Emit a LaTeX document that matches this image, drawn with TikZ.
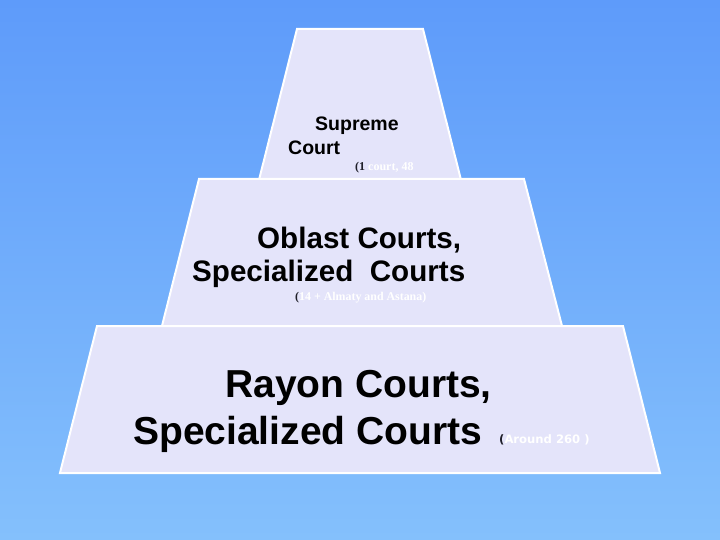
\documentclass[tikz,border=0pt]{standalone}
\usepackage{fontspec}
\setmainfont{Liberation Sans}
\newfontfamily\serifsmall{Liberation Serif}
\newfontfamily\dejavu{DejaVu Sans}
\definecolor{bgtop}{RGB}{94,155,250}
\definecolor{bgbot}{RGB}{132,192,252}
\definecolor{lav}{RGB}{228,228,250}
\definecolor{darktxt}{RGB}{30,30,40}
\tikzset{
  tier/.style={fill=lav, draw=white, line width=2pt, line join=miter},
  bigtxt/.style={anchor=base west, inner sep=0pt, text=black, font=\bfseries},
  smalltxt/.style={anchor=base west, inner sep=0pt, text=white}
}
\begin{document}
\begin{tikzpicture}[x=1pt,y=-1pt]
\useasboundingbox (0,0) rectangle (720,540);
\shade[top color=bgtop, bottom color=bgbot] (0,0) rectangle (720,540);
% tiers
\draw[tier] (297,29) -- (423,29) -- (461,180) -- (259,180) -- cycle;
\draw[tier] (199,179) -- (524,179) -- (562,326) -- (162,326) -- cycle;
\draw[tier] (97,326) -- (623,326) -- (660,473) -- (60,473) -- cycle;
% top text
\node[bigtxt, font=\bfseries\fontsize{19.5}{20}\selectfont] (sup1) at (315,131) {Supreme};
\node[bigtxt, font=\bfseries\fontsize{19.5}{20}\selectfont] (sup2) at (288,155) {Court};
\node[smalltxt, font=\serifsmall\bfseries\fontsize{12}{13}\selectfont] (sup3) at (355,171) {\textcolor{darktxt}{(1}\ court, 48};
% middle text
\node[bigtxt, font=\bfseries\fontsize{29.6}{31}\selectfont] (obl1) at (257,248) {Oblast Courts,};
\node[bigtxt, font=\bfseries\fontsize{29.6}{31}\selectfont] (obl2) at (192,281) {Specialized~~Courts};
\node[smalltxt, font=\serifsmall\bfseries\fontsize{11.9}{13}\selectfont] (obl3) at (295,300) {\textcolor{darktxt}{(}14 + Almaty and Astana)};
% bottom text
\node[bigtxt, font=\bfseries\fontsize{39}{40}\selectfont] (ray1) at (225,397) {Rayon Courts,};
\node[bigtxt, font=\bfseries\fontsize{39}{40}\selectfont] (ray2) at (133,444) {Specialized Courts};
\node[smalltxt, font=\dejavu\bfseries\fontsize{11.6}{12}\selectfont] (ray3) at (499,443) {\textcolor{darktxt}{(}Around 260 )};
\end{tikzpicture}
\end{document}
